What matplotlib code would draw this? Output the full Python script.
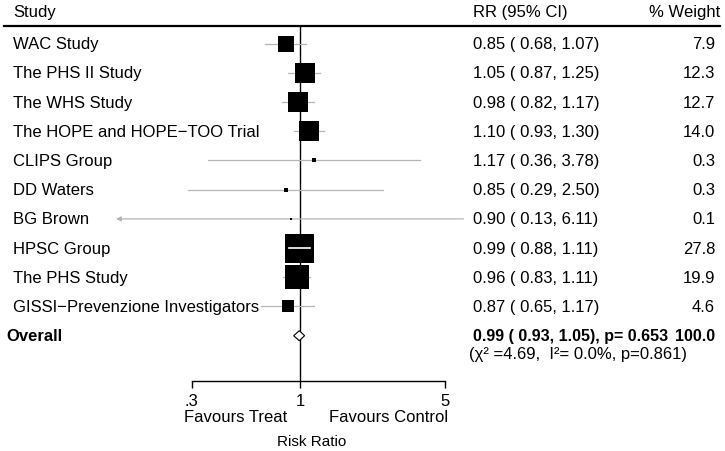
import numpy as np
import matplotlib
matplotlib.use("Agg")
import matplotlib.pyplot as plt
from matplotlib import transforms
from matplotlib.lines import Line2D
from matplotlib.patches import Polygon
from matplotlib.ticker import FixedLocator, FixedFormatter, NullLocator

plt.rcParams['font.family'] = ['Liberation Sans', 'DejaVu Sans']

# --- data ---
studies = ["WAC Study", "The PHS II Study", "The WHS Study",
           "The HOPE and HOPE\u2212TOO Trial", "CLIPS Group", "DD Waters",
           "BG Brown", "HPSC Group", "The PHS Study",
           "GISSI\u2212Prevenzione Investigators"]
rr = [0.85, 1.05, 0.98, 1.10, 1.17, 0.85, 0.90, 0.99, 0.96, 0.87]
ci_lo = [0.68, 0.87, 0.82, 0.93, 0.36, 0.29, 0.13, 0.88, 0.83, 0.65]
ci_hi = [1.07, 1.25, 1.17, 1.30, 3.78, 2.50, 6.11, 1.11, 1.11, 1.17]
weights = [7.9, 12.3, 12.7, 14.0, 0.3, 0.3, 0.1, 27.8, 19.9, 4.6]

overall_rr, overall_lo, overall_hi = 0.99, 0.93, 1.05
overall_p = 0.653
overall_wt = 100.0
chi2, i2, het_p = 4.69, 0.0, 0.861

xticks = [0.3, 1, 5]
xticklabels = [".3", "1", "5"]
arrow_below = 0.2   # CIs reaching below this get an arrow

W, H = 725, 452
fig = plt.figure(figsize=(W / 100, H / 100), dpi=100)

# plot area in pixels
x0, x1 = 191.5, 445.5
row0, step = 44.7, 29.2
y_top, y_axis = 26.7, 382.0
ax = fig.add_axes([x0 / W, 1 - y_axis / H, (x1 - x0) / W, (y_axis - y_top) / H])
ax.set_xscale('log')
ax.set_xlim(xticks[0], xticks[-1])
ax.set_ylim((y_axis - row0) / step, (y_top - row0) / step)

for s in ['top', 'right', 'left']:
    ax.spines[s].set_visible(False)
ax.spines['bottom'].set_linewidth(1.0)
ax.yaxis.set_visible(False)
ax.xaxis.set_major_locator(FixedLocator(xticks))
ax.xaxis.set_major_formatter(FixedFormatter(xticklabels))
ax.xaxis.set_minor_locator(NullLocator())
ax.tick_params(axis='x', direction='out', length=5, width=1.0, pad=3.5, labelsize=12)

ax.axvline(1, color='black', lw=1.0, zorder=1)

grey = '#b5b5b5'
fig.canvas.draw()
max_wt = max(weights)
for i, (est, lo, hi, w) in enumerate(zip(rr, ci_lo, ci_hi, weights)):
    side_px = 29 * np.sqrt(w / max_wt)
    if lo < arrow_below:
        ax.annotate('', xy=(lo, i), xytext=(hi, i), annotation_clip=False,
                    arrowprops=dict(arrowstyle='-|>', color=grey, lw=0.9,
                                    mutation_scale=7, shrinkA=0, shrinkB=0))
    else:
        ax.plot([lo, hi], [i, i], color=grey, lw=0.9, clip_on=False, zorder=2)
    ax.scatter([est], [i], marker='s', s=(side_px * 0.72) ** 2, color='black',
               linewidths=0, zorder=3, clip_on=False)
    # CI fully inside the box: draw it in white
    px_lo = ax.transData.transform((lo, i))[0]
    px_hi = ax.transData.transform((hi, i))[0]
    px_est = ax.transData.transform((est, i))[0]
    if px_est - px_lo < side_px / 2 and px_hi - px_est < side_px / 2:
        ax.plot([lo, hi], [i, i], color='white', lw=1.2, zorder=4)

n = len(studies)
dh = 5 / step
diamond = Polygon([(overall_lo, n), (overall_rr, n - dh), (overall_hi, n),
                   (overall_rr, n + dh)], closed=True, facecolor='white',
                  edgecolor='black', lw=0.8, zorder=3, clip_on=False)
ax.add_patch(diamond)

# --- text columns ---
tr = transforms.blended_transform_factory(fig.transFigure, ax.transData)
for i, name in enumerate(studies):
    ax.text(13 / W, i, name, transform=tr, ha='left', va='center', fontsize=12)
    ax.text(473 / W, i, "%.2f ( %.2f, %.2f)" % (rr[i], ci_lo[i], ci_hi[i]),
            transform=tr, ha='left', va='center', fontsize=12)
    ax.text(715 / W, i, "%.1f" % weights[i], transform=tr, ha='right',
            va='center', fontsize=12)

ax.text(6 / W, n, "Overall", transform=tr, ha='left', va='center',
        fontsize=12, fontweight='bold')
ax.text(473 / W, n, "%.2f ( %.2f, %.2f), p= %.3f" % (overall_rr, overall_lo,
        overall_hi, overall_p), transform=tr, ha='left', va='center',
        fontsize=11.5, fontweight='bold')
ax.text(715 / W, n, "%.1f" % overall_wt, transform=tr, ha='right',
        va='center', fontsize=11.5, fontweight='bold')
ax.text(469 / W, n + 0.62,
        "(\u03c7\u00b2 =%.2f,  I\u00b2= %.1f%%, p=%.3f)" % (chi2, i2, het_p),
        transform=tr, ha='left', va='center', fontsize=12)

# header
fig.text(13 / W, 1 - 12 / H, "Study", ha='left', va='center', fontsize=12)
fig.text(473 / W, 1 - 12 / H, "RR (95% CI)", ha='left', va='center', fontsize=12)
fig.text(720 / W, 1 - 12 / H, "% Weight", ha='right', va='center', fontsize=12)
fig.add_artist(Line2D([4 / W, 720 / W], [1 - y_top / H] * 2, color='black', lw=1.6))

# axis annotations
fig.text(184 / W, 1 - 417 / H, "Favours Treat", ha='left', va='center', fontsize=12)
fig.text(448 / W, 1 - 417 / H, "Favours Control", ha='right', va='center', fontsize=12)
fig.text(312 / W, 1 - 442 / H, "Risk Ratio", ha='center', va='center', fontsize=11)

fig.savefig("out.png", dpi=100)
